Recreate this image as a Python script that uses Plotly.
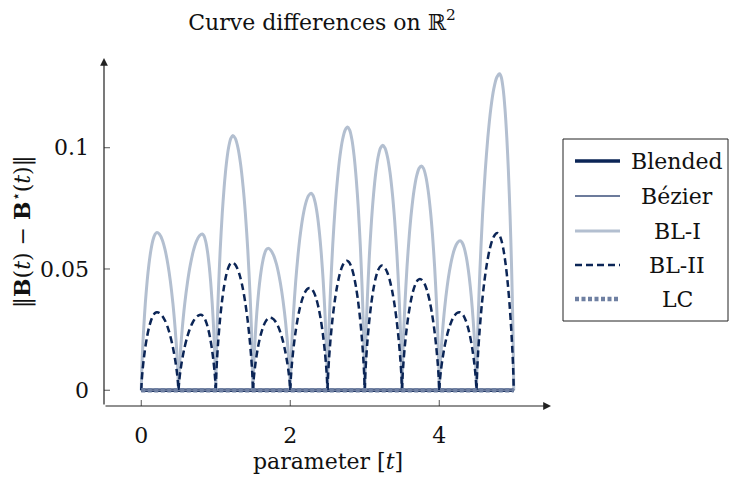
import plotly.graph_objects as go

# ---- data -------------------------------------------------------------
# knots of the piecewise curve (each arch lives between two knots)
KNOTS = [0.0, 0.5, 1.0, 1.5, 2.0, 2.5, 3.0, 3.5, 4.0, 4.5, 5.0]

# BL-I: location and height of the maximum in every segment
BL1_PEAK_T = [0.21, 0.82, 1.23, 1.70, 2.28, 2.77, 3.24, 3.76, 4.28, 4.81]
BL1_PEAK_Y = [0.0650, 0.0644, 0.1050, 0.0585, 0.0812, 0.1085, 0.1010, 0.0925, 0.0616, 0.1305]

# BL-II: location and height of the maximum in every segment
BL2_PEAK_T = [0.21, 0.80, 1.22, 1.73, 2.26, 2.76, 3.23, 3.74, 4.27, 4.78]
BL2_PEAK_Y = [0.0322, 0.0311, 0.0527, 0.0299, 0.0422, 0.0534, 0.0514, 0.0459, 0.0322, 0.0648]

# normalised half-arch profile (fraction of the way to the peak -> fraction of peak height)
HALF_S = [0.0, 0.03, 0.08, 0.15, 0.26, 0.38, 0.49, 0.62, 0.75, 0.88, 1.0]
HALF_H = [0.0, 0.12, 0.245, 0.382, 0.552, 0.695, 0.798, 0.890, 0.953, 0.989, 1.0]

# methods whose error is zero over the whole parameter range
FLAT_T = [0.0, 5.0]
BLENDED = [0.0, 0.0]
BEZIER = [0.0, 0.0]
LC = [0.0, 0.0]

X_TICKS = [0, 2, 4]
X_TICK_TEXT = ["0", "2", "4"]
Y_TICKS = [0.0, 0.05, 0.1]
Y_TICK_TEXT = ["0", "0.05", "0.1"]

X_RANGE = [-0.5, 5.5]
Y_RANGE = [-0.0065, 0.137]

# ---- styles -----------------------------------------------------------
FONT = "DejaVu Serif"
NAVY = "#0b2556"
STYLE = {
    "Blended": dict(color=NAVY, width=3.5, dash="solid"),
    "Bézier": dict(color="#6c7b9b", width=2, dash="solid"),
    "BL-I": dict(color="#b3bfd0", width=3, dash="solid"),
    "BL-II": dict(color=NAVY, width=2.5, dash="7px,4px"),
    "LC": dict(color="#6f80a2", width=4.5, dash="4px,2.5px"),
}


def arches(peak_t, peak_y):
    """Concatenate one arch per knot interval, separated by gaps."""
    xs, ys = [], []
    for a, b, p, h in zip(KNOTS[:-1], KNOTS[1:], peak_t, peak_y):
        for s, f in zip(HALF_S, HALF_H):
            xs.append(a + s * (p - a))
            ys.append(h * f)
        for s, f in zip(HALF_S[-2::-1], HALF_H[-2::-1]):
            xs.append(b - s * (b - p))
            ys.append(h * f)
        xs.append(None)
        ys.append(None)
    return xs, ys


fig = go.Figure()

bl1_x, bl1_y = arches(BL1_PEAK_T, BL1_PEAK_Y)
bl2_x, bl2_y = arches(BL2_PEAK_T, BL2_PEAK_Y)

series = [
    ("Blended", FLAT_T, BLENDED, "linear"),
    ("Bézier", FLAT_T, BEZIER, "linear"),
    ("BL-I", bl1_x, bl1_y, "spline"),
    ("BL-II", bl2_x, bl2_y, "spline"),
    ("LC", FLAT_T, LC, "linear"),
]

for name, xs, ys, shape in series:
    st = STYLE[name]
    fig.add_trace(go.Scatter(
        x=xs, y=ys, mode="lines", name=name, showlegend=False,
        connectgaps=False,
        line=dict(color=st["color"], width=st["width"], dash=st["dash"],
                  shape=shape, smoothing=0.8 if shape == "spline" else None),
        hoverinfo="skip",
    ))

# ---- geometry of the plotting area -----------------------------------
L, T, W, H = 104, 58, 447, 348
FIG_W, FIG_H = 733, 488


def px_x(x):
    return (x - L) / W


def px_y(y):
    return (T + H - y) / H


shapes = []
annotations = []

# crossing tick marks
for v in X_TICKS:
    shapes.append(dict(type="line", xref="x", yref="y", ysizemode="pixel",
                       yanchor=Y_RANGE[0], x0=v, x1=v, y0=-6, y1=6,
                       line=dict(color="#555555", width=1)))
for v in Y_TICKS:
    shapes.append(dict(type="line", xref="x", yref="y", xsizemode="pixel",
                       xanchor=X_RANGE[0], y0=v, y1=v, x0=-6, x1=6,
                       line=dict(color="#555555", width=1)))

# axis lines with arrow heads
annotations.append(dict(x=X_RANGE[1], y=Y_RANGE[0], xref="x", yref="y",
                        ax=-W, ay=0, text="", showarrow=True,
                        arrowhead=2, arrowsize=1.3, arrowwidth=1.2,
                        arrowcolor="#222222"))
annotations.append(dict(x=X_RANGE[0], y=Y_RANGE[1], xref="x", yref="y",
                        ax=0, ay=H, text="", showarrow=True,
                        arrowhead=2, arrowsize=1.3, arrowwidth=1.2,
                        arrowcolor="#222222"))

# axis titles
annotations.append(dict(x=px_x(328), y=px_y(461), xref="paper", yref="paper",
                        text="parameter [<i>t</i>]", showarrow=False,
                        font=dict(family=FONT, size=22, color="#111111"),
                        xanchor="center", yanchor="middle"))
annotations.append(dict(x=px_x(21), y=px_y(232), xref="paper", yref="paper",
                        text="‖<b>B</b>(<i>t</i>) − <b>B</b><sup>⋆</sup>(<i>t</i>)‖",
                        textangle=-90, showarrow=False,
                        font=dict(family=FONT, size=22, color="#111111"),
                        xanchor="center", yanchor="middle"))

# legend box
LEG_X0, LEG_X1, LEG_Y0, LEG_Y1 = 563, 728, 139, 321
shapes.append(dict(type="rect", xref="paper", yref="paper",
                   x0=px_x(LEG_X0), x1=px_x(LEG_X1),
                   y0=px_y(LEG_Y1), y1=px_y(LEG_Y0),
                   line=dict(color="#222222", width=1), fillcolor="white",
                   layer="above"))
ROW_Y = [161, 196, 231, 265, 299]
for (name, *_), ry in zip(series, ROW_Y):
    st = STYLE[name]
    shapes.append(dict(type="line", xref="paper", yref="paper",
                       x0=px_x(575), x1=px_x(620), y0=px_y(ry), y1=px_y(ry),
                       line=dict(color=st["color"], width=st["width"],
                                 dash=st["dash"]),
                       layer="above"))
    annotations.append(dict(x=px_x(677), y=px_y(ry), xref="paper",
                            yref="paper", text=name, showarrow=False,
                            font=dict(family=FONT, size=22, color="#111111"),
                            xanchor="center", yanchor="middle"))

fig.update_layout(
    width=FIG_W, height=FIG_H, autosize=False,
    margin=dict(l=L, r=FIG_W - L - W, t=T, b=FIG_H - T - H, pad=0),
    paper_bgcolor="white", plot_bgcolor="white",
    title=dict(text="Curve differences on ℝ<sup>2</sup>",
               x=322 / FIG_W, xanchor="center",
               y=1 - 22 / FIG_H, yanchor="middle",
               font=dict(family=FONT, size=22, color="#111111")),
    xaxis=dict(range=X_RANGE, showgrid=False, zeroline=False, showline=False,
               tickvals=X_TICKS, ticktext=X_TICK_TEXT, ticks="",
               ticklabelstandoff=14,
               tickfont=dict(family=FONT, size=22, color="#111111")),
    yaxis=dict(range=Y_RANGE, showgrid=False, zeroline=False, showline=False,
               tickvals=Y_TICKS, ticktext=Y_TICK_TEXT, ticks="",
               ticklabelstandoff=14,
               tickfont=dict(family=FONT, size=22, color="#111111")),
    shapes=shapes,
    annotations=annotations,
)

fig.write_html("out.html")
